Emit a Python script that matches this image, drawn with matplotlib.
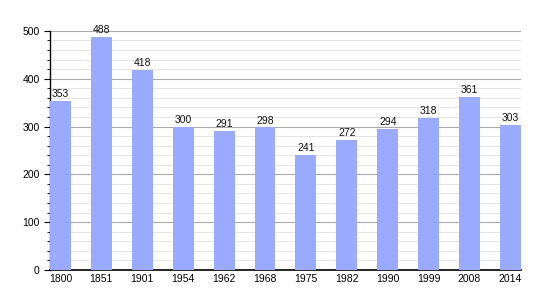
import matplotlib
matplotlib.use("Agg")
import matplotlib.pyplot as plt
import numpy as np
from matplotlib.ticker import MultipleLocator

years = ["1800", "1851", "1901", "1954", "1962", "1968", "1975", "1982", "1990", "1999", "2008", "2014"]
population = [353, 488, 418, 300, 291, 298, 241, 272, 294, 318, 361, 303]

plt.rcParams['font.family'] = ['Liberation Sans', 'DejaVu Sans']

fig = plt.figure(figsize=(5.5, 3), dpi=100)
ax = fig.add_axes([0.091, 0.1, 0.856, 0.797])

x = np.arange(len(years))
w = 0.51
ax.bar(x, population, width=w, color="#99aaff", zorder=3)

for xi, v in zip(x, population):
    ax.text(xi, v + 4, str(v), ha="center", va="bottom", fontsize=7.5, color="#111111", zorder=4)

ax.set_xlim(-w / 2, len(years) - 1 + w / 2)
ax.set_ylim(0, 500)
ax.set_xticks(x)
ax.set_xticklabels(years, fontsize=7.5)
ax.yaxis.set_major_locator(MultipleLocator(100))
ax.yaxis.set_minor_locator(MultipleLocator(20))
ax.tick_params(axis="y", labelsize=7.5, length=4, width=0.8)
ax.tick_params(axis="y", which="minor", length=2.5, width=0.6)
ax.tick_params(axis="x", length=0, pad=3)

ax.grid(axis="y", which="major", color="#aaaaaa", linewidth=0.8, zorder=0)
ax.grid(axis="y", which="minor", color="#e0e0e0", linewidth=0.6, zorder=0)
ax.set_axisbelow(True)

for s in ["top", "right"]:
    ax.spines[s].set_visible(False)
ax.spines["left"].set_linewidth(1)
ax.spines["bottom"].set_linewidth(1.2)

fig.savefig("out.png", dpi=100)
